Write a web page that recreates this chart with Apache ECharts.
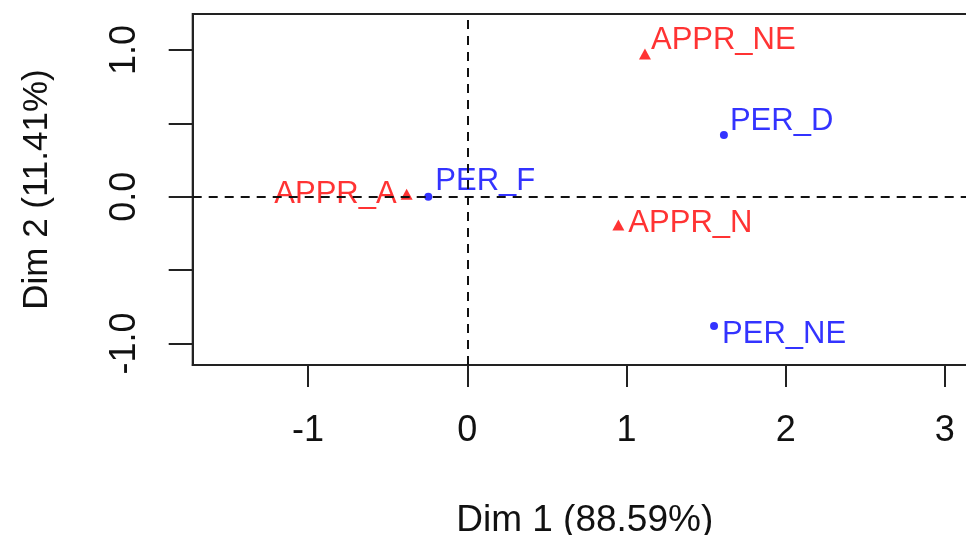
<!DOCTYPE html>
<html>
<head>
<meta charset="utf-8">
<script src="https://cdn.jsdelivr.net/npm/echarts@6/dist/echarts.min.js"></script>
<style>
  html, body { margin: 0; padding: 0; background: #fff; }
  #chart { width: 966px; height: 535px; }
</style>
</head>
<body>
<div id="chart"></div>
<script>
// row points (PER_*) and column points (APPR_*)
var perNames = ['PER_D', 'PER_F', 'PER_NE'];
var perDim1 = [1.612, -0.245, 1.550];
var perDim2 = [0.420, 0.000, -0.881];

var apprNames = ['APPR_NE', 'APPR_A', 'APPR_N'];
var apprDim1 = [1.116, -0.381, 0.949];
var apprDim2 = [0.973, 0.016, -0.193];

var xTicks = [-1, 0, 1, 2, 3];
var yTicks = [-1, -0.5, 0, 0.5, 1];
var yTickLabels = [-1, 0, 1];

var xTitle = 'Dim 1 (88.59%)';
var yTitle = 'Dim 2 (11.41%)';

// where each label sits next to its point
var labelPlace = {
  'PER_D':   { pos: 'right', dist: 2, off: [0, -14] },
  'PER_F':   { pos: 'right', dist: 3, off: [0, -15] },
  'PER_NE':  { pos: 'right', dist: 4, off: [0, 8] },
  'APPR_NE': { pos: 'right', dist: 0, off: [0, -13] },
  'APPR_A':  { pos: 'left',  dist: 4, off: [0, 0] },
  'APPR_N':  { pos: 'right', dist: 4, off: [0, -2] }
};

var FONT = '"Liberation Sans", Arial, Helvetica, sans-serif';

function buildData(names, xs, ys) {
  return names.map(function(n, i) {
    var p = labelPlace[n];
    return {
      name: n,
      value: [xs[i], ys[i]],
      label: { position: p.pos, distance: p.dist, offset: p.off }
    };
  });
}

var chart = echarts.init(document.getElementById('chart'));

var option = {
  animation: false,
  backgroundColor: '#fff',
  grid: {
    left: 192.7,
    top: 14,
    width: 784,
    height: 351,
    outerBoundsMode: 'none',
    containLabel: false,
    show: true,
    borderColor: '#222',
    borderWidth: 2,
    backgroundColor: 'transparent'
  },
  xAxis: {
    type: 'value',
    min: -1.725,
    max: 3.2,
    name: xTitle,
    nameLocation: 'middle',
    nameGap: 137,
    nameTextStyle: { fontFamily: FONT, fontSize: 37, color: '#111' },
    axisLine: { show: true, onZero: false, lineStyle: { color: '#222', width: 2 } },
    axisTick: { show: true, length: 22, customValues: xTicks, lineStyle: { color: '#222', width: 2 } },
    axisLabel: {
      customValues: xTicks,
      margin: 48,
      fontFamily: FONT,
      fontSize: 36,
      color: '#111'
    },
    splitLine: { show: false }
  },
  yAxis: {
    type: 'value',
    min: -1.147,
    max: 1.245,
    name: yTitle,
    nameLocation: 'middle',
    nameGap: 138,
    nameRotate: 90,
    nameTextStyle: { fontFamily: FONT, fontSize: 35, color: '#111' },
    axisLine: { show: true, onZero: false, lineStyle: { color: '#222', width: 2 } },
    axisTick: { show: true, length: 24, customValues: yTicks, lineStyle: { color: '#222', width: 2 } },
    axisLabel: {
      customValues: yTickLabels,
      rotate: 90,
      margin: 50,
      fontFamily: FONT,
      fontSize: 36,
      color: '#111',
      formatter: function(v) { return v.toFixed(1); }
    },
    splitLine: { show: false }
  },
  series: [
    {
      name: 'rows',
      type: 'scatter',
      symbol: 'circle',
      symbolSize: 8,
      itemStyle: { color: '#0000ff' },
      label: {
        show: true,
        formatter: '{b}',
        fontFamily: FONT,
        fontSize: 31,
        color: '#0000ff'
      },
      data: buildData(perNames, perDim1, perDim2),
      markLine: {
        silent: true,
        symbol: 'none',
        label: { show: false },
        lineStyle: { color: '#111', type: [9, 7], width: 2 },
        data: [{ xAxis: 0 }, { yAxis: 0 }]
      },
      z: 3
    },
    {
      name: 'cols',
      type: 'scatter',
      symbol: 'triangle',
      symbolSize: [12, 11],
      itemStyle: { color: '#ff0000' },
      label: {
        show: true,
        formatter: '{b}',
        fontFamily: FONT,
        fontSize: 31,
        color: '#ff0000'
      },
      data: buildData(apprNames, apprDim1, apprDim2),
      z: 3
    }
  ]
};

chart.setOption(option);
</script>
</body>
</html>
